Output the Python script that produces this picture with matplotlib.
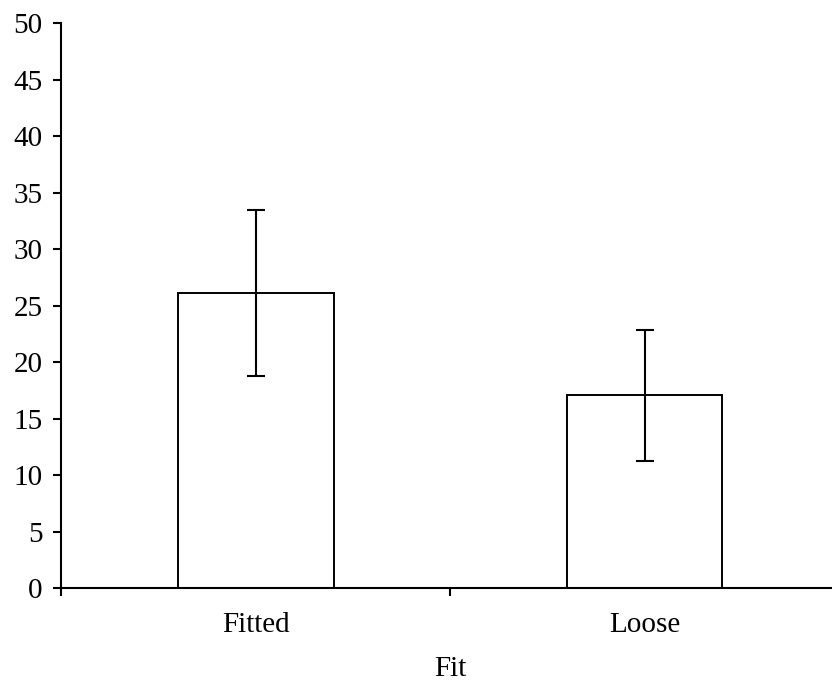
import numpy as np
import matplotlib
matplotlib.use("Agg")
import matplotlib.pyplot as plt

# valores
categories = ["Fitted", "Loose"]
means = [26.15, 17.1]
errors = [7.33, 5.8]

plt.rcParams['font.family'] = ['Liberation Serif', 'DejaVu Serif']

fig = plt.figure(figsize=(8.32, 6.84), dpi=100)
ax = fig.add_axes([0.0739, 0.1399, 0.9345, 0.826])

x = np.arange(len(categories))
ax.bar(x, means, width=0.4, color="white", edgecolor="black", linewidth=1.4, zorder=2)
ax.errorbar(x, means, yerr=errors, fmt="none", ecolor="black", elinewidth=1.5,
            capsize=6.5, capthick=1.5, zorder=3)

ax.set_xlim(-0.5, 1.5)
ax.set_ylim(0, 50)
ax.set_yticks(np.arange(0, 51, 5))

# etiquetas centradas, marcas en los limites de categoria
ax.set_xticks(x)
ax.set_xticklabels(categories)
ax.set_xticks([-0.5, 0.5, 1.5], minor=True)
ax.tick_params(axis="x", which="major", length=0, pad=17, labelsize=21)
ax.tick_params(axis="x", which="minor", length=6, width=1.5, direction="out")
ax.tick_params(axis="y", length=6, width=1.5, direction="out", pad=7.5, labelsize=21)

for s in ["top", "right"]:
    ax.spines[s].set_visible(False)
for s in ["left", "bottom"]:
    ax.spines[s].set_linewidth(1.5)

ax.set_xlabel("Fit", fontsize=21, labelpad=13)

plt.savefig("out.png", dpi=100)
plt.close()
